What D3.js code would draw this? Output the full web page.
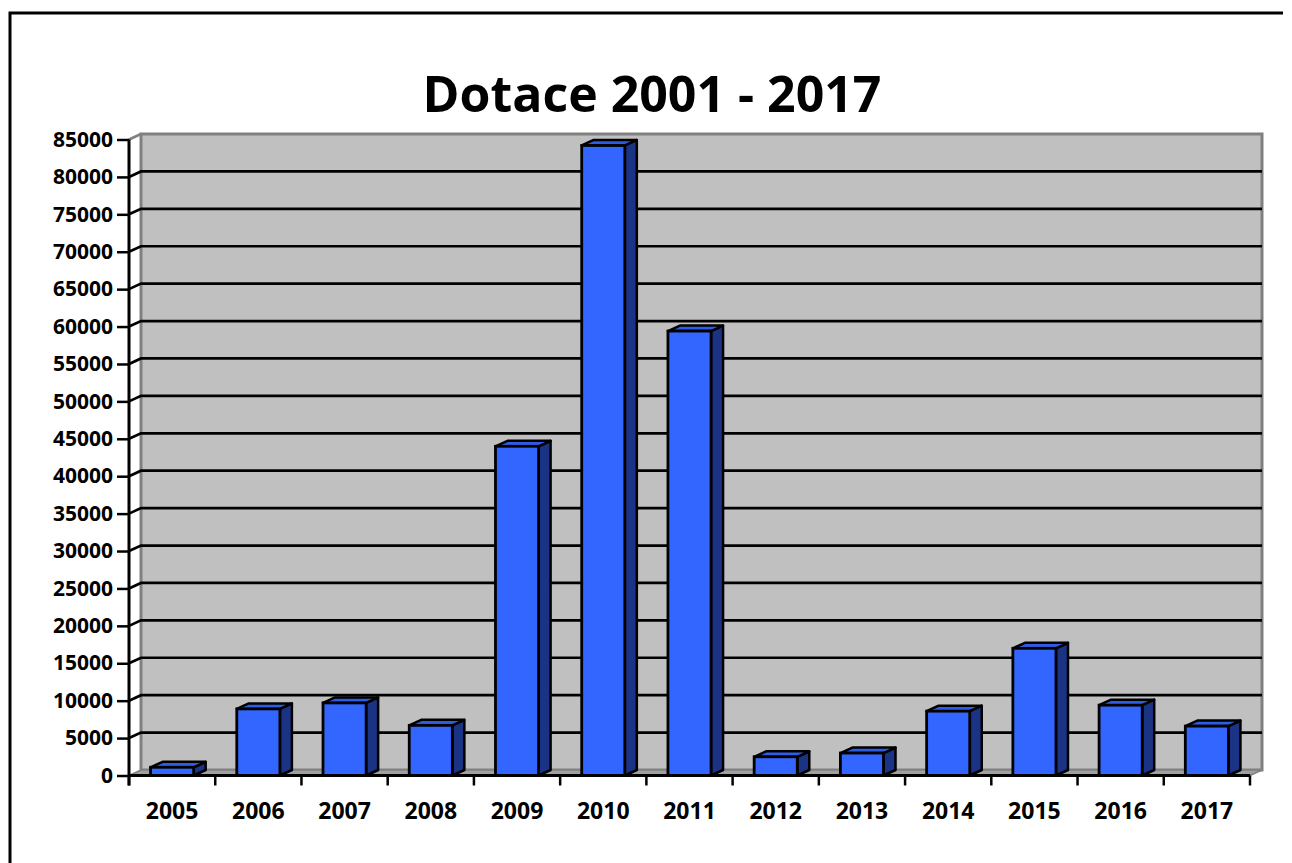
<!DOCTYPE html>
<html>
<head>
<meta charset="utf-8">
<script src="https://cdn.jsdelivr.net/npm/d3@7"></script>
<style>
  body { margin: 0; background: #fff; }
  svg { display: block; font-family: "Open Sans", Calibri, sans-serif; }
</style>
</head>
<body>
<div class="svg-container"></div>
<script>
// data
var years = ["2005", "2006", "2007", "2008", "2009", "2010", "2011",
             "2012", "2013", "2014", "2015", "2016", "2017"];
var dotace = [1100, 8900, 9700, 6700, 44000, 84200, 59400,
              2500, 3000, 8600, 17000, 9400, 6600];
var yTicks = d3.range(0, 85001, 5000);
var title = "Dotace 2001 - 2017";

var width = 1292, height = 863;
// front plane of the plot
var plot = { left: 129, right: 1250, top: 139.5, bottom: 775.5 };
// 3d depth offset
var dx = 12, dy = -5.5;

var svg = d3.select(".svg-container").append("svg")
    .attr("width", width)
    .attr("height", height);

// outer frame
svg.append("path")
    .attr("d", "M10," + (height + 5) + "V13H1283")
    .attr("fill", "none")
    .attr("stroke", "#000")
    .attr("stroke-width", 3);

svg.append("text")
    .attr("x", 652)
    .attr("y", 112)
    .attr("text-anchor", "middle")
    .attr("font-weight", "bold")
    .attr("font-size", 50)
    .text(title);

var x = d3.scaleBand()
    .domain(years)
    .range([plot.left, plot.right])
    .paddingInner(0.5)
    .paddingOuter(0.25);

var y = d3.scaleLinear()
    .domain([0, 85000])
    .range([plot.bottom, plot.top]);

var yTop = y(85000), yBot = y(0);

// back wall
svg.append("rect")
    .attr("x", plot.left + dx)
    .attr("y", yTop + dy)
    .attr("width", plot.right - plot.left)
    .attr("height", yBot - yTop)
    .attr("fill", "#c0c0c0")
    .attr("stroke", "#808080")
    .attr("stroke-width", 3);

// side wall top edge
svg.append("line")
    .attr("x1", plot.left).attr("y1", yTop)
    .attr("x2", plot.left + dx).attr("y2", yTop + dy)
    .attr("stroke", "#808080")
    .attr("stroke-width", 2.5);

// gridlines (back wall + slanted bit on side wall)
var grid = svg.append("g");
yTicks.filter(function(d) { return d > 0 && d < 85000; }).forEach(function(d) {
  var yy = y(d);
  grid.append("path")
      .attr("d", "M" + plot.left + "," + yy +
                 "L" + (plot.left + dx) + "," + (yy + dy) +
                 "H" + (plot.right + dx))
      .attr("fill", "none")
      .attr("stroke", "#000")
      .attr("stroke-width", 2.7);
});

// floor
svg.append("path")
    .attr("d", "M" + plot.left + "," + yBot +
               "H" + plot.right +
               "L" + (plot.right + dx) + "," + (yBot + dy) +
               "H" + (plot.left + dx) + "Z")
    .attr("fill", "#a0a0a0")
    .attr("stroke", "#808080")
    .attr("stroke-width", 1.5);

// bars
var bw = x.bandwidth();
var bars = svg.append("g").selectAll("g")
    .data(years.map(function(yr, i) { return { year: yr, value: dotace[i] }; }))
    .join("g");

bars.append("path") // side face
    .attr("d", function(d) {
      var x1 = x(d.year) + bw, yv = y(d.value);
      return "M" + x1 + "," + yBot + "V" + yv +
             "L" + (x1 + dx) + "," + (yv + dy) +
             "V" + (yBot + dy) + "Z";
    })
    .attr("fill", "#1a3384")
    .attr("stroke", "#000")
    .attr("stroke-width", 2.5)
    .attr("stroke-linejoin", "round");

bars.append("path") // top face
    .attr("d", function(d) {
      var x0 = x(d.year), yv = y(d.value);
      return "M" + x0 + "," + yv + "H" + (x0 + bw) +
             "L" + (x0 + bw + dx) + "," + (yv + dy) +
             "H" + (x0 + dx) + "Z";
    })
    .attr("fill", "#2e5ce6")
    .attr("stroke", "#000")
    .attr("stroke-width", 2.5)
    .attr("stroke-linejoin", "round");

bars.append("rect") // front face
    .attr("x", function(d) { return x(d.year); })
    .attr("y", function(d) { return y(d.value); })
    .attr("width", bw)
    .attr("height", function(d) { return yBot - y(d.value); })
    .attr("fill", "#3366ff")
    .attr("stroke", "#000")
    .attr("stroke-width", 2.8);

// y axis
var yAxis = svg.append("g")
    .attr("transform", "translate(" + plot.left + ",0)")
    .call(d3.axisLeft(y).tickValues(yTicks).tickFormat(d3.format("d"))
      .tickSize(12).tickPadding(4).tickSizeOuter(0));
yAxis.select(".domain").remove();
yAxis.selectAll(".tick line").attr("stroke", "#000").attr("stroke-width", 2.5);
yAxis.selectAll("text")
    .attr("font-family", "'Open Sans', Calibri, sans-serif")
    .attr("font-weight", "bold")
    .attr("font-size", 21)
    .attr("fill", "#000");

svg.append("line")
    .attr("x1", plot.left).attr("x2", plot.left)
    .attr("y1", yTop).attr("y2", yBot + 10)
    .attr("stroke", "#000")
    .attr("stroke-width", 3);

// x axis
svg.append("line")
    .attr("x1", plot.left).attr("x2", plot.right)
    .attr("y1", yBot).attr("y2", yBot)
    .attr("stroke", "#000")
    .attr("stroke-width", 3);

var step = x.step();
var xTickPos = d3.range(years.length + 1).map(function(i) { return plot.left + i * step; });
svg.append("g").selectAll("line")
    .data(xTickPos)
    .join("line")
    .attr("x1", function(d) { return d; }).attr("x2", function(d) { return d; })
    .attr("y1", yBot).attr("y2", yBot + 10)
    .attr("stroke", "#000")
    .attr("stroke-width", 2.5);

svg.append("g").selectAll("text")
    .data(years)
    .join("text")
    .attr("x", function(d) { return x(d) + bw / 2; })
    .attr("y", 819)
    .attr("text-anchor", "middle")
    .attr("font-weight", "bold")
    .attr("font-size", 23)
    .text(function(d) { return d; });
</script>
</body>
</html>
